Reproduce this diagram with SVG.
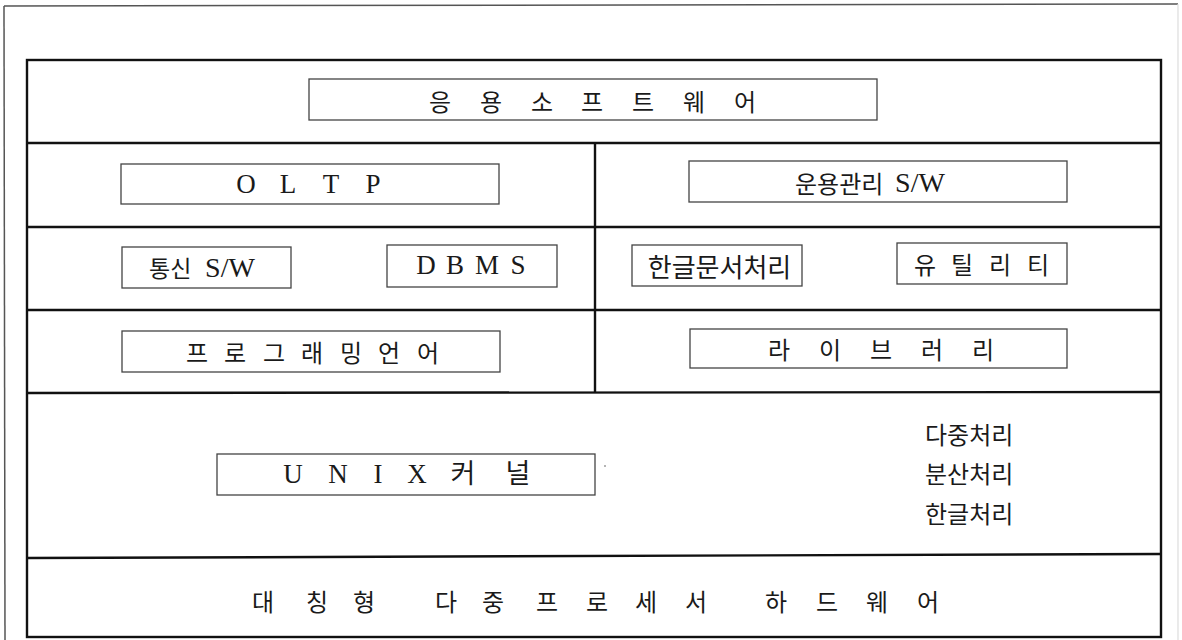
<svg xmlns="http://www.w3.org/2000/svg" width="1182" height="640" viewBox="0 0 1182 640">
<style>
.frame{stroke:#555;stroke-width:1.5;fill:none}
.grid{stroke:#111;stroke-width:2.4;fill:none}
.box{stroke:#444;stroke-width:1.3;fill:none}
.ko{font-family:"Noto Sans CJK KR","Noto Sans",sans-serif;fill:#1a1a1a;font-size:24px;dominant-baseline:central}
.lat{font-family:"Liberation Serif","Times New Roman","Noto Sans CJK KR",serif;fill:#1a1a1a;font-size:27px;dominant-baseline:central}
.mid{text-anchor:middle}
</style>
<rect width="1182" height="640" fill="#fff"/>
<g id="outer-frame">
<line class="frame" x1="4" y1="6" x2="1178" y2="4"/>
<line class="frame" x1="4" y1="6" x2="5" y2="640"/>
<line x1="1178" y1="4" x2="1178" y2="640" stroke="#ddd" stroke-width="1.2"/>
</g>
<g id="connectors">
<rect class="grid" x="27" y="60" width="1134" height="577"/>
<line class="grid" x1="27" y1="143" x2="1161" y2="143"/>
<line class="grid" x1="27" y1="227" x2="1161" y2="227"/>
<line class="grid" x1="27" y1="310" x2="1161" y2="310"/>
<line class="grid" x1="27" y1="393" x2="1161" y2="392"/>
<line class="grid" x1="27" y1="558" x2="1161" y2="554"/>
<line class="grid" x1="595" y1="143" x2="595" y2="393"/>
</g>
<g id="app-software">
<rect class="box" x="309" y="79" width="568" height="41"/>
<text class="ko mid" x="440 465 491 516 542 567 592 617 643 668 694 719 745" y="100">응 용 소 프 트 웨 어</text>
</g>
<g id="oltp">
<rect class="box" x="121" y="164" width="378" height="40"/>
<text class="lat mid" x="246 267 288 309 331 352 373" y="184">O L T P</text>
</g>
<g id="ops-mgmt">
<rect class="box" x="689" y="161" width="378" height="41"/>
<text class="lat" x="795" y="182"><tspan class="ko" style="font-size:24px">운용관리</tspan> <tspan dx="5" style="font-size:28px">S/W</tspan></text>
</g>
<g id="comm-sw">
<rect class="box" x="122" y="247" width="169" height="41"/>
<text class="lat" x="149" y="267"><tspan class="ko" style="font-size:23px">통신</tspan> <tspan dx="7" style="font-size:28px">S/W</tspan></text>
</g>
<g id="dbms">
<rect class="box" x="387" y="245" width="170" height="42"/>
<text class="lat mid" x="426 440 455 471 487 502 518" y="265">D B M S</text>
</g>
<g id="hangul-doc">
<rect class="box" x="632" y="245" width="170" height="41"/>
<text class="ko mid" style="font-size:26px" x="719.5" y="265">한글문서처리</text>
</g>
<g id="utility">
<rect class="box" x="897" y="243" width="170" height="41"/>
<text class="ko mid" x="925 944 962 981 1000 1019 1038" y="263">유 틸 리 티</text>
</g>
<g id="prog-lang">
<rect class="box" x="122" y="331" width="378" height="41"/>
<text class="ko mid" x="197 216 235 255 274 293 312 332 351 370 389 409 428" y="351">프 로 그 래 밍 언 어</text>
</g>
<g id="library">
<rect class="box" x="690" y="329" width="377" height="39"/>
<text class="ko mid" x="779 804 830 855 881 906 932 957 983" y="348">라 이 브 러 리</text>
</g>
<g id="unix-kernel">
<rect class="box" x="217" y="454" width="378" height="41"/>
<text class="lat mid" x="293 315 338 358 378 397 417 440 463 490 518" y="474">U N I X 커 널</text>
<circle cx="605" cy="466" r="0.8" fill="#555"/>
</g>
<g id="kernel-features">
<text class="ko" x="925" y="433">다중처리</text>
<text class="ko" x="925" y="472">분산처리</text>
<text class="ko" x="925" y="512">한글처리</text>
</g>
<g id="smp-hardware">
<text class="ko mid" x="263 290 317 340 364 405 446 470 493 520 547 572 597 621 646 671 696 736 776 801 827 852 877 902 928" y="600">대 칭 형 다 중 프 로 세 서 하 드 웨 어</text>
</g>
</svg>
